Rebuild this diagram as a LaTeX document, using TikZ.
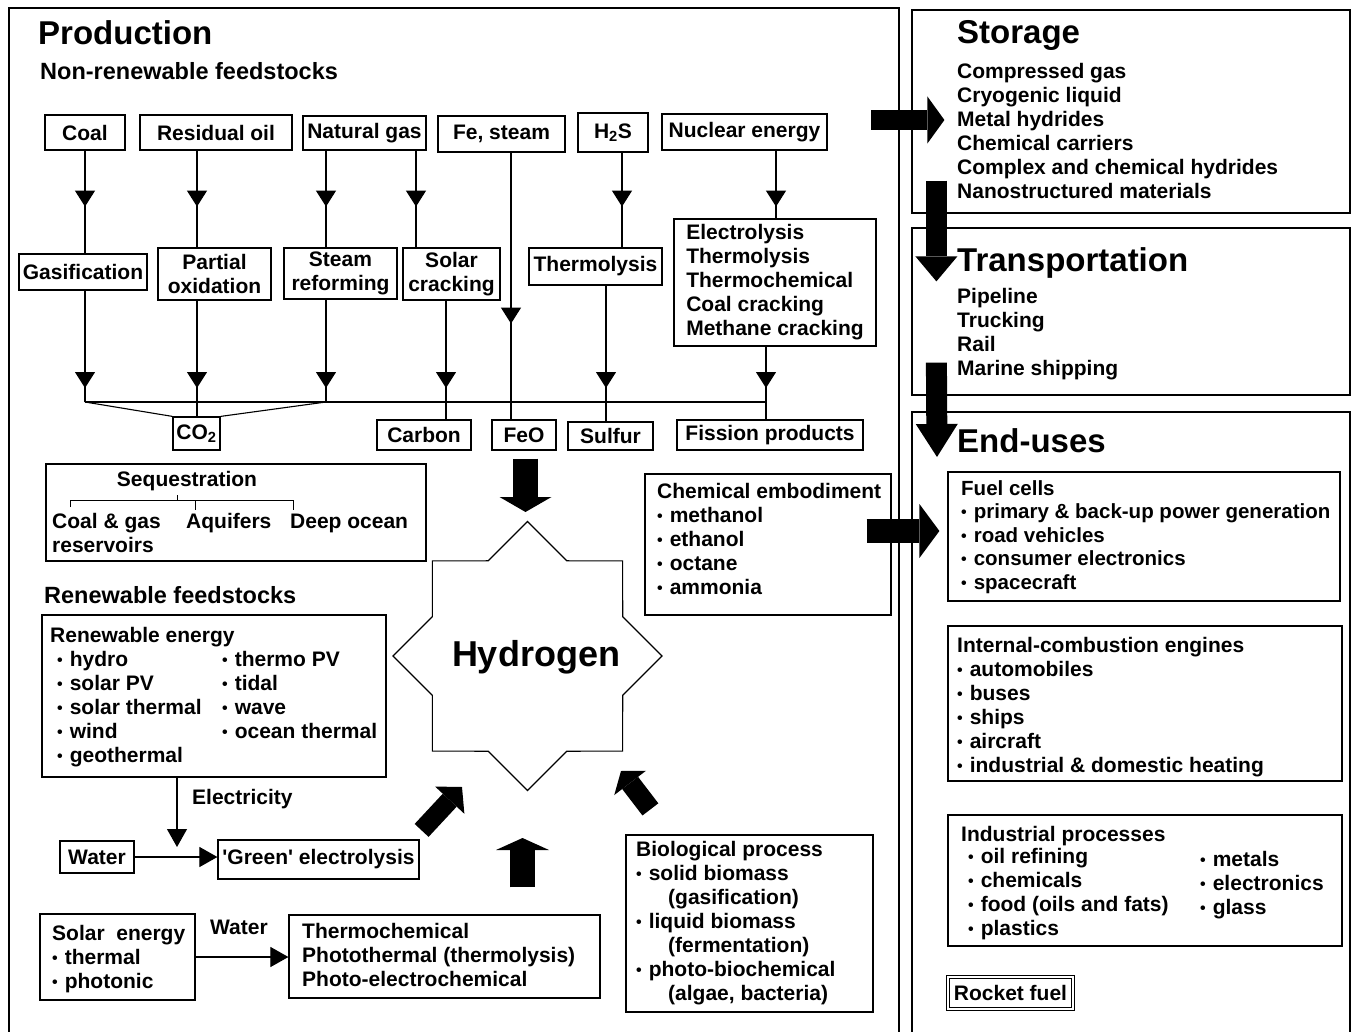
\documentclass[tikz,border=0pt]{standalone}
\usepackage{fontspec}
\setmainfont{Liberation Sans}
\usepackage{tikz}
\usetikzlibrary{arrows.meta, decorations.markings, calc}

\newcommand\titlefnt{\fontsize{33}{36}\selectfont\bfseries}
\newcommand\subfnt{\fontsize{23.5}{26}\selectfont\bfseries}
\newcommand\boxfnt{\fontsize{21}{24}\selectfont\bfseries}
\newcommand\blt{\raisebox{1pt}{\fontsize{16}{16}\selectfont\textbullet}\hspace{7pt}}

\begin{document}
\begin{tikzpicture}[
    x=1pt, y=-1pt,
    frame/.style={draw, line width=1.3pt},
    box/.style 2 args={draw, line width=1.2pt, inner sep=0pt, align=center,
        font=\boxfnt, minimum width=#1, minimum height=#2},
    txt/.style={inner sep=0pt, align=left, font=\boxfnt},
    flow/.style={line width=1.1pt},
    tipat/.style={flow, postaction={decorate}, decoration={markings,
        mark=at position #1 with {\arrow{Triangle[width=20pt,length=16pt]}}}},
    thinarrow/.style={flow, -{Triangle[width=20pt,length=18pt]}},
    fat/.style n args={3}{line width=#1,
        -{Triangle[length=#2,width=#3,line width=0pt]}}
]
\useasboundingbox (0,0) rectangle (1354,1032);

% Frames
\draw[frame] (9,1032) |- (899,8) -- (899,1032);
\node[box={438}{203}] (storage) at (1131,111.5) {};
\node[box={438}{167}] (transport) at (1131,311.5) {};
\coordinate (endu) at (912,412);
\draw[frame] (912,1032) |- (1350,412) -- (1350,1032);

% Production
\node[txt, font=\titlefnt, anchor=base west] (prodtitle) at (38,45) {Production};
\node[txt, font=\subfnt, anchor=base west] (nonren) at (40,80) {Non-renewable feedstocks};

% Feedstocks
\node[box={80}{35}] (coal) at (85,132.5) {Coal};
\node[box={152}{35}] (resoil) at (216,132.5) {Residual oil};
\node[box={123}{34}] (natgas) at (364.5,133) {Natural gas};
\node[box={127}{36}] (festeam) at (501.5,134) {Fe, steam};
\node[box={70}{39}] (hts) at (613,132.5) {H\textsubscript{2}S};
\node[box={165}{36}] (nuclear) at (744.5,132) {Nuclear energy};

% Processes
\node[box={128}{36}] (gasif) at (83,272) {Gasification};
\node[box={113}{52}] (partox) at (214.5,274) {Partial\\oxidation};
\node[box={113}{51}] (steamref) at (340.5,273.5) {Steam\\reforming};
\node[box={97}{52}] (solarcrack) at (451.5,274) {Solar\\cracking};
\node[box={133}{37}] (thermol) at (595.5,266.5) {Thermolysis};
\node[box={202}{127}, align=left] (nucproc) at (775,282.5)
    {Electrolysis\\Thermolysis\\Thermochemical\\Coal cracking\\Methane cracking};

% By-products
\node[box={47}{33}] (co2) at (196.5,433.5) {CO\textsubscript{2}};
\node[box={94}{30}] (carbon) at (424,435) {Carbon};
\node[box={64}{30}] (feo) at (524,435) {FeO};
\node[box={85}{28}] (sulfur) at (610.5,436) {Sulfur};
\node[box={186}{30}] (fission) at (770,435) {Fission products};

% Channels
\coordinate (c1) at (85,0);
\coordinate (c2) at (197,0);
\coordinate (c3) at (326,0);
\coordinate (c4) at (416,0);
\coordinate (c4b) at (446,0);
\coordinate (c5) at (511,0);
\coordinate (c6) at (622,0);
\coordinate (c6b) at (606,0);
\coordinate (c7) at (776,0);
\coordinate (c7b) at (766,0);
\coordinate (jy) at (0,402);

\draw[tipat=56pt] (coal.south -| c1) -- (gasif.north -| c1);
\draw[tipat=56pt] (resoil.south -| c2) -- (partox.north -| c2);
\draw[tipat=56pt] (natgas.south -| c3) -- (steamref.north -| c3);
\draw[tipat=56pt] (natgas.south -| c4) -- (solarcrack.north -| c4);
\draw[tipat=171pt] (festeam.south -| c5) -- (feo.north -| c5);
\draw[tipat=54pt] (hts.south -| c6) -- (thermol.north -| c6);
\draw[tipat=56pt] (nuclear.south -| c7) -- (nucproc.north -| c7);

\draw[tipat=-14pt] (gasif.south -| c1) -- (c1 |- jy);
\draw[tipat=-14pt] (partox.south -| c2) -- (c2 |- jy);
\draw[tipat=-14pt] (steamref.south -| c3) -- (c3 |- jy);
\draw[tipat=-14pt] (solarcrack.south -| c4b) -- (c4b |- jy);
\draw[tipat=-14pt] (thermol.south -| c6b) -- (c6b |- jy);
\draw[tipat=-14pt] (nucproc.south -| c7b) -- (c7b |- jy);

\draw[flow] (c1 |- jy) -- (c7b |- jy);
\draw[flow] (c1 |- jy) -- (co2.north west);
\draw[flow] (c3 |- jy) -- (co2.north east);
\draw[flow] (c2 |- jy) -- (co2.north -| c2);
\draw[flow] (c4b |- jy) -- (carbon.north -| c4b);
\draw[flow] (c6b |- jy) -- (sulfur.north -| c6b);
\draw[flow] (c7b |- jy) -- (fission.north -| c7b);

% Sequestration
\node[box={380}{97}] (seq) at (236,512.5) {};
\node[txt, anchor=base] (seqtitle) at (187,486) {Sequestration};
\draw[flow, line width=0.9pt] (70,507) |- (293,500) -- (293,510);
\draw[flow, line width=0.9pt] (195,500) -- (195,510);
\draw[flow, line width=0.9pt] (177,500) -- (177,495);
\node[txt, anchor=north west] (seqcoal) at (52,513) {Coal \& gas\\reservoirs};
\node[txt, anchor=base west] (seqaqu) at (186,528) {Aquifers};
\node[txt, anchor=base west] (seqdeep) at (290,528) {Deep ocean};

% Hydrogen
\coordinate (hydc) at (527.5,656);
\draw[line width=1.2pt, shift={(hydc)}] (90:134.5)
    \foreach \i in {1,...,15} { -- ({90+22.5*\i}:{mod(\i,2)==0 ? 134.5 : 103}) } -- cycle;
\node[inner sep=0pt, font=\fontsize{36}{40}\selectfont\bfseries] (hyd) at (536,657) {Hydrogen};

% Chemical embodiment
\node[box={246}{141}] (chem) at (768,544.5) {};
\node[txt, anchor=north west] (chemtext) at (657,483)
    {Chemical embodiment\\\blt methanol\\\blt ethanol\\\blt octane\\\blt ammonia};

% Renewable feedstocks
\node[txt, font=\subfnt, anchor=base west] (rentitle) at (44,603) {Renewable feedstocks};
\node[box={344}{162}] (renew) at (214,696) {};
\node[txt, anchor=north west] (renhead) at (50,627) {Renewable energy};
\node[txt, anchor=north west] (renleft) at (57,651)
    {\blt hydro\\\blt solar PV\\\blt solar thermal\\\blt wind\\\blt geothermal};
\node[txt, anchor=north west] (renright) at (222,651)
    {\blt thermo PV\\\blt tidal\\\blt wave\\\blt ocean thermal};

\node[box={74}{32}] (water) at (97,857) {Water};
\node[box={201}{39}] (green) at (318.5,859.5) {\textquotesingle Green\textquotesingle\ electrolysis};
\draw[thinarrow] (water.east) -- (water.east -| green.west);
\coordinate (ce) at (177,0);
\draw[thinarrow, shorten >=10pt] (renew.south -| ce) -- (ce |- water.east);
\node[txt, anchor=base west] (electxt) at (192,804) {Electricity};

\node[box={155}{86}] (solar) at (117.5,957) {};
\node[txt, anchor=north west] (solartext) at (52,925)
    {Solar\ \ energy\\\blt thermal\\\blt photonic};
\node[box={311}{83}] (thermo) at (444.5,956.5) {};
\node[txt, anchor=north west] (thermotext) at (302,923)
    {Thermochemical\\Photothermal (thermolysis)\\Photo-electrochemical};
\draw[thinarrow] (solar.east) -- (solar.east -| thermo.west);
\node[txt, anchor=base west] (watertxt) at (210,934) {Water};

\node[box={247}{177}] (bio) at (749.5,923.5) {};
\node[txt, anchor=north west] (biotext) at (636,841)
    {Biological process\\\blt solid biomass\\\hspace*{32pt}(gasification)\\
     \blt liquid biomass\\\hspace*{32pt}(fermentation)\\
     \blt photo-biochemical\\\hspace*{32pt}(algae, bacteria)};

% Storage
\node[txt, font=\titlefnt, anchor=base west] (stortitle) at (957,44) {Storage};
\node[txt, anchor=north west] (storlist) at (957,63)
    {Compressed gas\\Cryogenic liquid\\Metal hydrides\\Chemical carriers\\
     Complex and chemical hydrides\\Nanostructured materials};

% Transportation
\node[txt, font=\titlefnt, anchor=base west] (transtitle) at (957,272) {Transportation};
\node[txt, anchor=north west] (translist) at (957,288)
    {Pipeline\\Trucking\\Rail\\Marine shipping};

% End-uses
\node[txt, font=\titlefnt, anchor=base west] (endtitle) at (957,452) {End-uses};
\node[box={392}{129}] (fuel) at (1144,536.5) {};
\node[txt, anchor=north west, font=\fontsize{20.5}{23.5}\selectfont\bfseries] (fueltext) at (961,480)
    {Fuel cells\\\blt primary \& back-up power generation\\\blt road vehicles\\
     \blt consumer electronics\\\blt spacecraft};
\node[box={394}{155}] (ice) at (1145,703.5) {};
\node[txt, anchor=north west] (icetext) at (957,637)
    {Internal-combustion engines\\\blt automobiles\\\blt buses\\\blt ships\\
     \blt aircraft\\\blt industrial \& domestic heating};
\node[box={394}{131}] (indus) at (1145,880.5) {};
\node[txt, anchor=north west] (industitle) at (961,826) {Industrial processes};
\node[txt, anchor=north west] (indleft) at (968,848)
    {\blt oil refining\\\blt chemicals\\\blt food (oils and fats)\\\blt plastics};
\node[txt, anchor=north west] (indright) at (1200,851)
    {\blt metals\\\blt electronics\\\blt glass};
\node[box={125}{32}, double, double distance=1.2pt] (rocket) at (1010.5,993) {Rocket fuel};

% Block arrows
\draw[fat={20pt}{17pt}{47pt}] ([shift={(-40,8.5)}]storage.west) -- ([shift={(33,8.5)}]storage.west);
\draw[fat={21pt}{25pt}{42pt}] ([shift={(25,-33)}]storage.south west) -- ([shift={(25,54)}]transport.north west);
\draw[fat={21pt}{33pt}{42pt}] ([shift={(25,-33)}]transport.south west) -- ([shift={(25,45)}]endu);
\draw[fat={24pt}{20pt}{54pt}] ([shift={(-25,-13.5)}]chem.east) -- ([shift={(-8,-5.5)}]fuel.west);
\draw[fat={25pt}{15pt}{52pt}] ([shift={(1.5,8)}]feo.south) -- ([shift={(-2,-144)}]hydc);
\draw[fat={19pt}{18pt}{40pt}] ([shift={(2,-9)}]green.north east) -- ([shift={(-65.5,131)}]hydc);
\draw[fat={25pt}{12pt}{53pt}] ([shift={(78,-27)}]thermo.north) -- ([shift={(-5,182)}]hydc);
\draw[fat={20pt}{15pt}{40pt}] ([shift={(25,-25)}]bio.north west) -- ([shift={(93.5,115)}]hydc);

\end{tikzpicture}
\end{document}
